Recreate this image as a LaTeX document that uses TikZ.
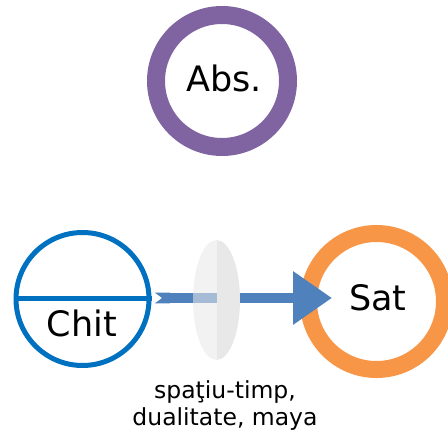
\documentclass[tikz,border=0pt]{standalone}
\usepackage{fontspec}
\setmainfont{DejaVu Sans}
\usetikzlibrary{shapes.geometric,arrows.meta}
\definecolor{absviolet}{RGB}{128,100,162}
\definecolor{chitblue}{RGB}{0,112,192}
\definecolor{satorange}{RGB}{247,150,70}
\definecolor{arrowblue}{RGB}{79,129,189}
\definecolor{lensgray}{RGB}{232,232,232}
\tikzset{
  ring/.style={circle, draw, inner sep=0pt},
  bigtext/.style={font=\fontsize{35}{42}\selectfont, inner sep=0pt},
  flow/.style={draw=arrowblue, line width=10.6pt,
    {Triangle Cap[reversed, length=7pt]}-{Triangle[length=39pt, width=51pt]}},
  lensbox/.style={ellipse, inner sep=0pt, minimum width=47pt, minimum height=120pt,
    path picture={
      \fill[lensgray, fill opacity=0.57] (path picture bounding box.south west) rectangle (path picture bounding box.north);
      \fill[lensgray] (path picture bounding box.south) rectangle (path picture bounding box.north east);
    }},
  caption/.style={font=\fontsize{23.5}{27}\selectfont, align=center, inner sep=0pt}
}
\begin{document}
\begin{tikzpicture}[x=1pt, y=-1pt]
\useasboundingbox (0,0) rectangle (448,430);
\clip (0,0) rectangle (448,430);
% Absolute
\node[ring, draw=absviolet, line width=18pt, minimum size=132pt] (abs) at (222,81) {};
\node[bigtext, anchor=base] (abslabel) at (224,91.7) {Abs.};
% Chit
\node[ring, draw=chitblue, line width=5pt, minimum size=133pt] (chit) at (82.5,299) {};
\draw[chitblue, line width=5pt] (chit.west) -- (chit.east);
\node[bigtext, anchor=base] (chitlabel) at (82,336.7) {Chit};
% Sat
\node[ring, draw=satorange, line width=17pt, minimum size=136pt] (sat) at (376.5,301.5) {};
\node[bigtext, anchor=base] (satlabel) at (378,310.7) {Sat};
% arrow
\coordinate (tail) at ([xshift=3.5pt, yshift=1pt]chit.east);
\coordinate (tip) at ([xshift=32pt, yshift=3.5pt]sat.west);
\draw[flow] (tail) -- (tip);
% lens
\node[lensbox] (lens) at (216.5,300) {};
% caption
\node[caption] (cap) at (225,405.5) {spaţiu-timp,\\dualitate, maya};
\end{tikzpicture}
\end{document}
